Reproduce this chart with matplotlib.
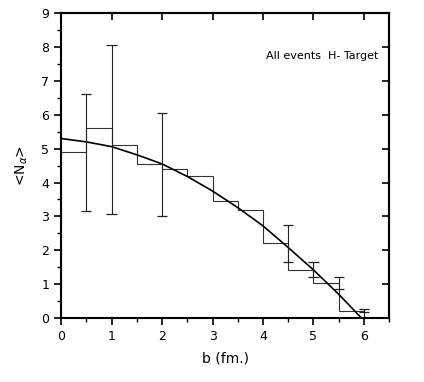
import matplotlib.pyplot as plt
from matplotlib.ticker import MultipleLocator

# histogram: bin edges and mean values
edges = [0, 0.5, 1.0, 1.5, 2.0, 2.5, 3.0, 3.5, 4.0, 4.5, 5.0, 5.5, 6.0]
values = [4.9, 5.6, 5.1, 4.55, 4.4, 4.18, 3.46, 3.2, 2.22, 1.42, 1.04, 0.22]

# error bars (drawn at bin edges)
err_x = [0.5, 1.0, 2.0, 4.5, 5.0, 5.5, 6.0]
err_lo = [3.15, 3.08, 3.0, 1.66, 1.2, 0.85, 0.0]
err_hi = [6.6, 8.05, 6.05, 2.76, 1.64, 1.2, 0.27]

# fitted curve
curve_x = [0, 0.5, 1.0, 1.5, 2.0, 2.5, 3.0, 3.5, 4.0, 4.5, 5.0, 5.5, 5.95]
curve_y = [5.30, 5.20, 5.06, 4.82, 4.55, 4.18, 3.75, 3.26, 2.72, 2.08, 1.42, 0.70, 0.0]

fig = plt.figure(figsize=(4.24, 3.82), dpi=100)
ax = fig.add_axes([0.144, 0.1675, 0.774, 0.798])

ax.stairs(values, edges, color='#333333', lw=0.8)
ax.plot(curve_x, curve_y, color='black', lw=1.2)

for x, lo, hi in zip(err_x, err_lo, err_hi):
    ax.vlines(x, lo, hi, color='#222222', lw=0.8)
    ax.hlines([lo, hi], x - 0.1, x + 0.1, color='#222222', lw=0.9)
ax.hlines(0.17, 5.9, 6.1, color='#222222', lw=0.9)

ax.set_xlim(0, 6.5)
ax.set_ylim(0, 9)
ax.xaxis.set_major_locator(MultipleLocator(1))
ax.xaxis.set_minor_locator(MultipleLocator(0.5))
ax.yaxis.set_major_locator(MultipleLocator(1))
ax.yaxis.set_minor_locator(MultipleLocator(0.5))

ax.tick_params(which='major', direction='out', length=5, width=1.2, labelsize=9)
ax.tick_params(which='minor', direction='out', length=3, width=1.0)

# mirrored ticks pointing inward on top and right
top = ax.secondary_xaxis('top')
top.xaxis.set_major_locator(MultipleLocator(1))
top.tick_params(direction='in', length=5, width=1.2, labeltop=False)
right = ax.secondary_yaxis('right')
right.yaxis.set_major_locator(MultipleLocator(1))
right.tick_params(direction='in', length=5, width=1.2, labelright=False)

for s in ax.spines.values():
    s.set_linewidth(1.5)
top.spines['top'].set_linewidth(1.5)
right.spines['right'].set_linewidth(1.5)

ax.text(6.28, 7.75, 'All events  H- Target', ha='right', va='center', fontsize=8)

ax.set_xlabel('b (fm.)', fontsize=10, labelpad=6)
ax.set_ylabel('<N$_\\alpha$>', fontsize=10, labelpad=8)

fig.savefig('out.png', dpi=100)
